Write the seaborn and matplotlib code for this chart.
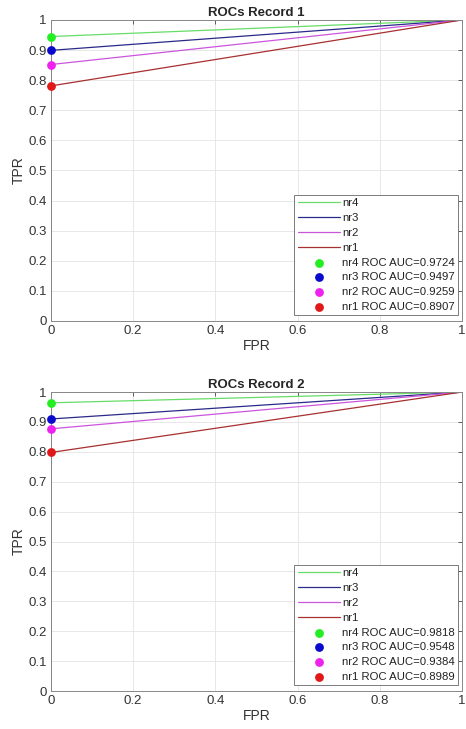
import numpy as np
import pandas as pd
import seaborn as sns
import matplotlib.pyplot as plt

# operating points (TPR at FPR=0)
names = ["nr4", "nr3", "nr2", "nr1"]
record1_tpr = [0.945, 0.899, 0.852, 0.781]
record1_auc = [0.9724, 0.9497, 0.9259, 0.8907]
record2_tpr = [0.964, 0.910, 0.877, 0.798]
record2_auc = [0.9818, 0.9548, 0.9384, 0.8989]
titles = ["ROCs Record 1", "ROCs Record 2"]
ticks = [0, 0.2, 0.4, 0.6, 0.8, 1]
yticks = [0, 0.1, 0.2, 0.3, 0.4, 0.5, 0.6, 0.7, 0.8, 0.9, 1]

line_colors = ["#66dd66", "#2a2a8a", "#cc55dd", "#a83030"]
dot_colors = ["#22ee22", "#0a0acc", "#ee22ee", "#e01818"]

sns.set_style("whitegrid")
plt.rcParams['font.family'] = ['Liberation Sans', 'DejaVu Sans']

fig = plt.figure(figsize=(4.66, 7.29), dpi=100)
ax1 = fig.add_axes([0.1094, 0.5597, 0.882, 0.4129])
ax2 = fig.add_axes([0.1094, 0.0521, 0.882, 0.4101])


def draw_record(ax, tpr_list, auc_list, title):
    rows = []
    for name, tp in zip(names, tpr_list):
        for i, (fx, ty) in enumerate([(0, 0), (0, tp), (1, 1)]):
            rows.append({"name": name, "order": i, "FPR": fx, "TPR": ty})
    df = pd.DataFrame(rows)
    for name, c in zip(names, line_colors):
        d = df[df["name"] == name]
        sns.lineplot(data=d, x="FPR", y="TPR", sort=False, color=c, lw=0.9,
                     label=name, ax=ax, estimator=None)
    for name, tp, auc, c in zip(names, tpr_list, auc_list, dot_colors):
        sns.scatterplot(x=[0], y=[tp], color=c, s=40, edgecolor=c, linewidth=0,
                        label=f"{name} ROC AUC={auc:.4f}", ax=ax, zorder=5, clip_on=False)
    ax.set_xlim(0, 1)
    ax.set_ylim(0, 1)
    ax.set_xticks(ticks)
    ax.set_xticklabels(["0", "0.2", "0.4", "0.6", "0.8", "1"])
    ax.set_yticks(yticks)
    ax.set_yticklabels(["0", "0.1", "0.2", "0.3", "0.4", "0.5", "0.6", "0.7", "0.8", "0.9", "1"])
    ax.tick_params(direction="in", top=True, right=True, length=3, width=0.6,
                   color="#444444", labelsize=9.5, labelcolor="#333333", pad=3)
    ax.grid(True, color="#e4e4e4", lw=0.6)
    for s in ax.spines.values():
        s.set_color("#888888")
        s.set_linewidth(0.7)
    ax.set_title(title, fontsize=9.5, fontweight="bold", pad=3)
    ax.set_xlabel("FPR", fontsize=10, color="#333333", labelpad=1)
    ax.set_ylabel("TPR", fontsize=10, color="#333333", labelpad=2)
    leg = ax.legend(loc="lower right", fontsize=8.2, frameon=True, fancybox=False,
                    edgecolor="#666666", framealpha=1, borderpad=0.3,
                    labelspacing=0.42, handlelength=3.7, handletextpad=0.2,
                    borderaxespad=0.5, bbox_to_anchor=(1.005, 0))
    leg.get_frame().set_linewidth(0.6)
    for t in leg.get_texts():
        t.set_color("#222222")


draw_record(ax1, record1_tpr, record1_auc, titles[0])
draw_record(ax2, record2_tpr, record2_auc, titles[1])

plt.savefig("out.png", dpi=100)
